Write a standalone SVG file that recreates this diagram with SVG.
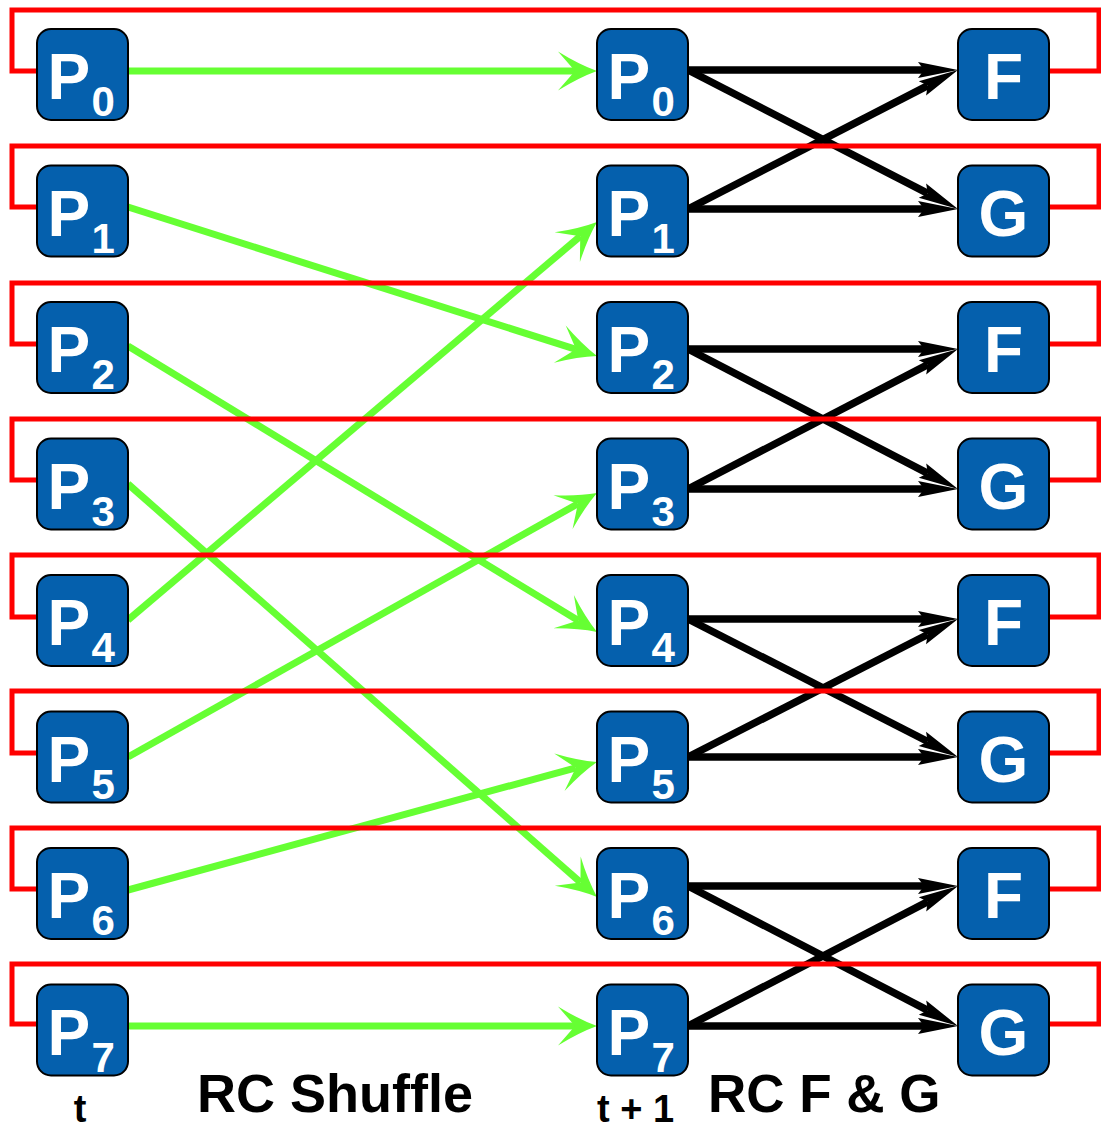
<svg xmlns="http://www.w3.org/2000/svg" width="1101" height="1131" viewBox="0 0 1101 1131">
  <defs>
    <style>
      .node rect { fill: #0560ad; stroke: #000; stroke-width: 2; }
      .node text { fill: #fff; font-family: "Liberation Sans", Arial, sans-serif; font-weight: bold; }
      .big { font-size: 64px; }
      .sub { font-size: 42px; }
      .mid { text-anchor: middle; }
      .shuffle { fill: none; stroke: #66ff33; stroke-width: 7; marker-end: url(#head-green); }
      .fg { fill: none; stroke: #000; stroke-width: 7.5; marker-end: url(#head-black); }
      .loop { fill: none; stroke: #ff0000; stroke-width: 5; stroke-linejoin: miter; }
      .label { fill: #000; font-family: "Liberation Sans", Arial, sans-serif; font-weight: bold; }
    </style>
    <!-- green barbed head: notch sits on the line end, tip 22px further on -->
    <marker id="head-green" markerUnits="userSpaceOnUse" markerWidth="40" markerHeight="40" refX="17" refY="19.5" orient="auto" overflow="visible">
      <path d="M0,0 Q21,13 39,19.5 Q21,26 0,39 L17,19.5 Z" fill="#66ff33"/>
    </marker>
    <!-- narrow black head: notch on the line end, tip 34px further on -->
    <marker id="head-black" markerUnits="userSpaceOnUse" markerWidth="40" markerHeight="16" refX="6" refY="8" orient="auto" overflow="visible">
      <path d="M0,0 L40,8 L0,16 L6,8 Z" fill="#000"/>
    </marker>
  </defs>

  <rect width="1101" height="1131" fill="#fff"/>

  <g id="connectors">
    <!-- RC shuffle: P(t) -> P(t+1) -->
    <g id="shuffle">
      <path class="shuffle" d="M128,71 L575,71"/>
      <path class="shuffle" d="M128,207 L576.03,349.34"/>
      <path class="shuffle" d="M128,346 L578.22,620.55"/>
      <path class="shuffle" d="M128,484 L580.49,882.46"/>
      <path class="shuffle" d="M128,620 L580.23,236.24"/>
      <path class="shuffle" d="M128,757 L577.83,503.79"/>
      <path class="shuffle" d="M128,890 L575.78,767.79"/>
      <path class="shuffle" d="M128,1026 L575,1026"/>
    </g>
    <!-- RC F & G: each pair feeds both F and G -->
    <g id="fg">
      <path class="fg" d="M688,70 L924,70"/>
      <path class="fg" d="M688,70 L927.77,193.44"/>
      <path class="fg" d="M688,209 L927.77,85.56"/>
      <path class="fg" d="M688,209 L924,209"/>

      <path class="fg" d="M688,349 L924,349"/>
      <path class="fg" d="M688,349 L927.82,473.35"/>
      <path class="fg" d="M688,489 L927.82,364.65"/>
      <path class="fg" d="M688,489 L924,489"/>

      <path class="fg" d="M688,619 L924,619"/>
      <path class="fg" d="M688,619 L927.73,741.53"/>
      <path class="fg" d="M688,757 L927.73,634.47"/>
      <path class="fg" d="M688,757 L924,757"/>

      <path class="fg" d="M688,886 L924,886"/>
      <path class="fg" d="M688,886 L927.82,1010.35"/>
      <path class="fg" d="M688,1026 L927.82,901.65"/>
      <path class="fg" d="M688,1026 L924,1026"/>
    </g>
    <!-- feedback loops: F/G output back to P(t) -->
    <g id="feedback">
      <path class="loop" d="M1049,71 H1099 V10 H12 V71 H37"/>
      <path class="loop" d="M1049,207 H1099 V146 H12 V207 H37"/>
      <path class="loop" d="M1049,344 H1099 V283 H12 V344 H37"/>
      <path class="loop" d="M1049,480 H1099 V419 H12 V480 H37"/>
      <path class="loop" d="M1049,617 H1099 V555 H12 V617 H37"/>
      <path class="loop" d="M1049,753 H1099 V691 H12 V753 H37"/>
      <path class="loop" d="M1049,889 H1099 V828 H12 V889 H37"/>
      <path class="loop" d="M1049,1024 H1099 V964 H12 V1024 H37"/>
    </g>
  </g>

  <!-- column t -->
  <g id="t-p0" class="node" transform="translate(37,29)"><rect width="91" height="91" rx="14"/><text class="big" x="10.5" y="70">P</text><text class="sub" x="54.5" y="87">0</text></g>
  <g id="t-p1" class="node" transform="translate(37,165.5)"><rect width="91" height="91" rx="14"/><text class="big" x="10.5" y="70">P</text><text class="sub" x="54.5" y="87">1</text></g>
  <g id="t-p2" class="node" transform="translate(37,302)"><rect width="91" height="91" rx="14"/><text class="big" x="10.5" y="70">P</text><text class="sub" x="54.5" y="87">2</text></g>
  <g id="t-p3" class="node" transform="translate(37,438.5)"><rect width="91" height="91" rx="14"/><text class="big" x="10.5" y="70">P</text><text class="sub" x="54.5" y="87">3</text></g>
  <g id="t-p4" class="node" transform="translate(37,575)"><rect width="91" height="91" rx="14"/><text class="big" x="10.5" y="70">P</text><text class="sub" x="54.5" y="87">4</text></g>
  <g id="t-p5" class="node" transform="translate(37,711.5)"><rect width="91" height="91" rx="14"/><text class="big" x="10.5" y="70">P</text><text class="sub" x="54.5" y="87">5</text></g>
  <g id="t-p6" class="node" transform="translate(37,848)"><rect width="91" height="91" rx="14"/><text class="big" x="10.5" y="70">P</text><text class="sub" x="54.5" y="87">6</text></g>
  <g id="t-p7" class="node" transform="translate(37,984.5)"><rect width="91" height="91" rx="14"/><text class="big" x="10.5" y="70">P</text><text class="sub" x="54.5" y="87">7</text></g>

  <!-- column t + 1 -->
  <g id="t1-p0" class="node" transform="translate(597,29)"><rect width="91" height="91" rx="14"/><text class="big" x="10.5" y="70">P</text><text class="sub" x="54.5" y="87">0</text></g>
  <g id="t1-p1" class="node" transform="translate(597,165.5)"><rect width="91" height="91" rx="14"/><text class="big" x="10.5" y="70">P</text><text class="sub" x="54.5" y="87">1</text></g>
  <g id="t1-p2" class="node" transform="translate(597,302)"><rect width="91" height="91" rx="14"/><text class="big" x="10.5" y="70">P</text><text class="sub" x="54.5" y="87">2</text></g>
  <g id="t1-p3" class="node" transform="translate(597,438.5)"><rect width="91" height="91" rx="14"/><text class="big" x="10.5" y="70">P</text><text class="sub" x="54.5" y="87">3</text></g>
  <g id="t1-p4" class="node" transform="translate(597,575)"><rect width="91" height="91" rx="14"/><text class="big" x="10.5" y="70">P</text><text class="sub" x="54.5" y="87">4</text></g>
  <g id="t1-p5" class="node" transform="translate(597,711.5)"><rect width="91" height="91" rx="14"/><text class="big" x="10.5" y="70">P</text><text class="sub" x="54.5" y="87">5</text></g>
  <g id="t1-p6" class="node" transform="translate(597,848)"><rect width="91" height="91" rx="14"/><text class="big" x="10.5" y="70">P</text><text class="sub" x="54.5" y="87">6</text></g>
  <g id="t1-p7" class="node" transform="translate(597,984.5)"><rect width="91" height="91" rx="14"/><text class="big" x="10.5" y="70">P</text><text class="sub" x="54.5" y="87">7</text></g>

  <!-- F / G functions -->
  <g id="f0" class="node" transform="translate(958,29)"><rect width="91" height="91" rx="14"/><text class="big mid" x="45.5" y="70">F</text></g>
  <g id="g0" class="node" transform="translate(958,165.5)"><rect width="91" height="91" rx="14"/><text class="big mid" x="45.5" y="70">G</text></g>
  <g id="f1" class="node" transform="translate(958,302)"><rect width="91" height="91" rx="14"/><text class="big mid" x="45.5" y="70">F</text></g>
  <g id="g1" class="node" transform="translate(958,438.5)"><rect width="91" height="91" rx="14"/><text class="big mid" x="45.5" y="70">G</text></g>
  <g id="f2" class="node" transform="translate(958,575)"><rect width="91" height="91" rx="14"/><text class="big mid" x="45.5" y="70">F</text></g>
  <g id="g2" class="node" transform="translate(958,711.5)"><rect width="91" height="91" rx="14"/><text class="big mid" x="45.5" y="70">G</text></g>
  <g id="f3" class="node" transform="translate(958,848)"><rect width="91" height="91" rx="14"/><text class="big mid" x="45.5" y="70">F</text></g>
  <g id="g3" class="node" transform="translate(958,984.5)"><rect width="91" height="91" rx="14"/><text class="big mid" x="45.5" y="70">G</text></g>

  <!-- captions -->
  <g id="captions">
    <text class="label" x="80" y="1122" font-size="38" text-anchor="middle">t</text>
    <text class="label" x="197" y="1112" font-size="54">RC Shuffle</text>
    <text class="label" x="597" y="1122" font-size="38">t + 1</text>
    <text class="label" x="708" y="1112" font-size="53">RC F &amp; G</text>
  </g>
</svg>
